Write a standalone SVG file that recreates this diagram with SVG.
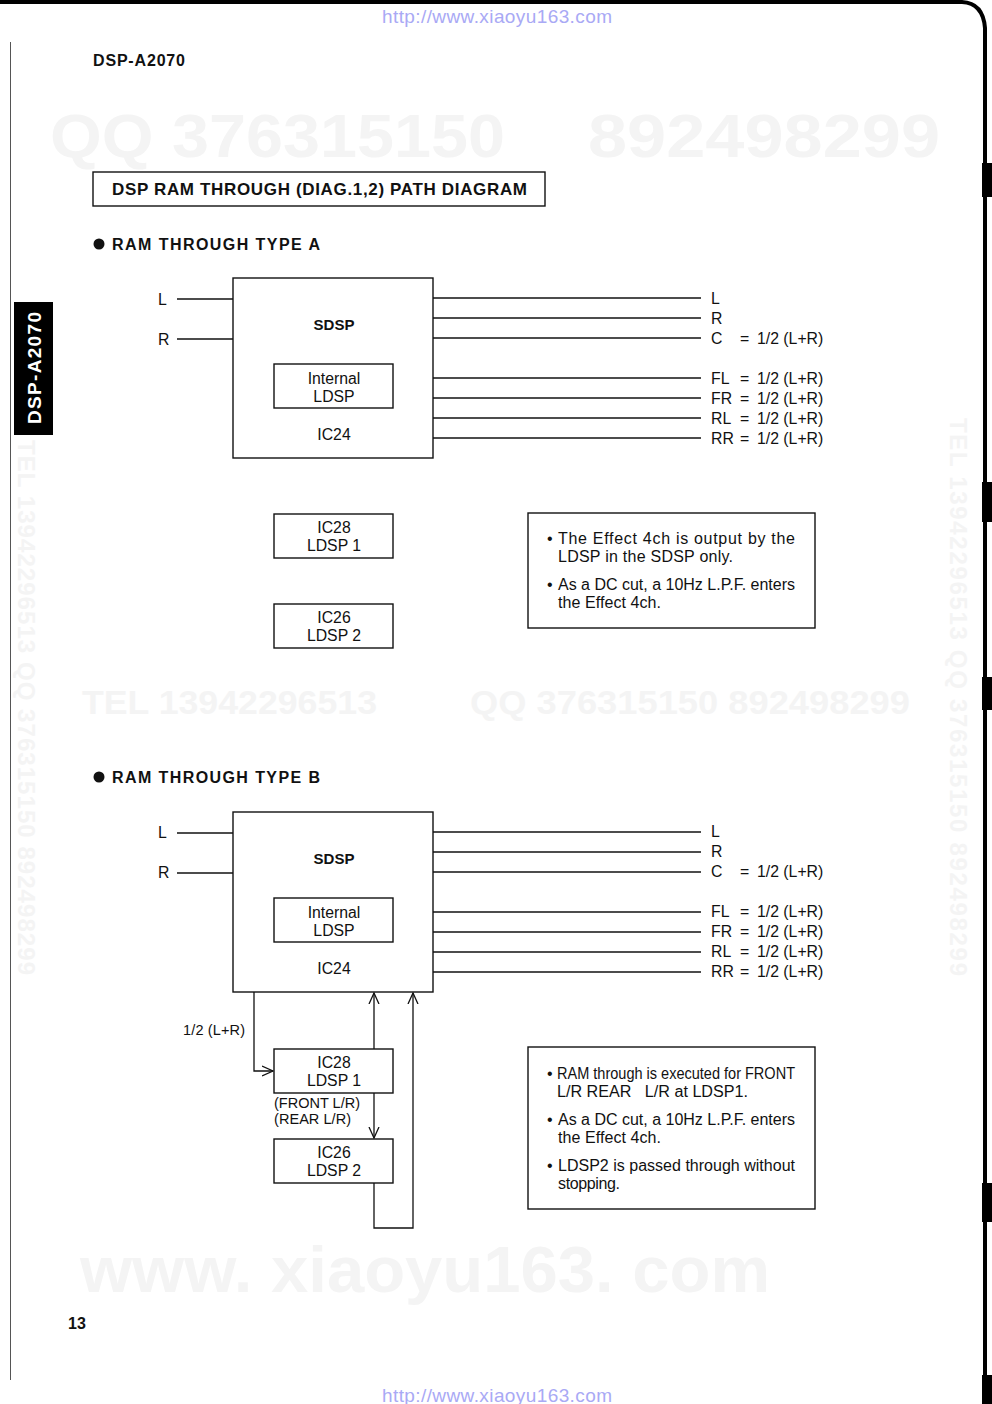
<svg xmlns="http://www.w3.org/2000/svg" width="992" height="1404" viewBox="0 0 992 1404">
<style>
text{font-family:"Liberation Sans",Arial,sans-serif;fill:#111}
.b{font-weight:bold}
.lbl{font-size:15.8px}
.box{fill:none;stroke:#111;stroke-width:1.4}
.ln{fill:none;stroke:#111;stroke-width:1.3}
.wm{font-family:"Liberation Sans",Arial,sans-serif;font-weight:bold;fill:#f4f4f4}
.url{fill:#a9a9f5;font-size:19px}
.mid{text-anchor:middle}
.note{font-size:16px}
</style>
<defs>
<marker id="arr" viewBox="0 0 12 12" refX="11" refY="6" markerWidth="12" markerHeight="12" markerUnits="userSpaceOnUse" orient="auto">
<path d="M0,1 L11,6 L0,11" fill="none" stroke="#111" stroke-width="1.3"/>
</marker>
</defs>
<rect width="992" height="1404" fill="#fff"/>

<!-- watermarks -->
<g id="watermarks">
<text class="wm" x="50" y="157" font-size="62" textLength="455" lengthAdjust="spacingAndGlyphs">QQ 376315150</text>
<text class="wm" x="588" y="157" font-size="62" textLength="352" lengthAdjust="spacingAndGlyphs">892498299</text>
<text class="wm" x="82" y="714" font-size="34" textLength="295" lengthAdjust="spacingAndGlyphs">TEL  13942296513</text>
<text class="wm" x="470" y="714" font-size="34" textLength="440" lengthAdjust="spacingAndGlyphs">QQ  376315150  892498299</text>
<text class="wm" x="80" y="1292" font-size="64" textLength="690" lengthAdjust="spacingAndGlyphs">www. xiaoyu163. com</text>
<text class="wm" font-size="24" transform="translate(950,418) rotate(90)" textLength="558">TEL  13942296513  QQ  376315150  892498299</text>
<text class="wm" font-size="24" transform="translate(18,440) rotate(90)" textLength="535">TEL  13942296513  QQ  376315150  892498299</text>
</g>

<!-- page frame -->
<g id="frame">
<path d="M0,2 H962 Q983,3 985,28 V1404" fill="none" stroke="#000" stroke-width="4"/>
<line x1="10.5" y1="42" x2="10.5" y2="1380" stroke="#555" stroke-width="1"/>
<rect x="982" y="163" width="10" height="34" fill="#000"/>
<rect x="982" y="482" width="10" height="40" fill="#000"/>
<rect x="982" y="677" width="10" height="33" fill="#000"/>
<rect x="982" y="1183" width="10" height="39" fill="#000"/>
<rect x="982" y="1375" width="10" height="29" fill="#000"/>
</g>

<text class="url" x="382" y="23" textLength="230">http://www.xiaoyu163.com</text>
<text class="url" x="382" y="1402" textLength="230">http://www.xiaoyu163.com</text>

<text class="b" x="93" y="66" font-size="16" textLength="92">DSP-A2070</text>
<text class="b" x="68" y="1329" font-size="16" textLength="18">13</text>

<g id="side-tab">
<rect x="14" y="302" width="39" height="133" fill="#000"/>
<text class="b mid" transform="translate(41,368) rotate(-90)" font-size="19" textLength="112" style="fill:#fff">DSP-A2070</text>
</g>

<g id="title">
<rect class="box" x="93" y="172" width="452" height="34"/>
<text class="b" x="112" y="195" font-size="17" textLength="415">DSP RAM THROUGH (DIAG.1,2) PATH DIAGRAM</text>
</g>

<!-- ============ TYPE A ============ -->
<g id="headA">
<circle cx="99" cy="244" r="5.5" fill="#111"/>
<text class="b" x="112" y="250" font-size="16" textLength="208">RAM THROUGH TYPE A</text>
</g>

<g id="connectorsA">
<line class="ln" x1="177" y1="299" x2="233" y2="299"/>
<line class="ln" x1="177" y1="339" x2="233" y2="339"/>
<line class="ln" x1="433" y1="298" x2="701" y2="298"/>
<line class="ln" x1="433" y1="318" x2="701" y2="318"/>
<line class="ln" x1="433" y1="338" x2="701" y2="338"/>
<line class="ln" x1="433" y1="378" x2="701" y2="378"/>
<line class="ln" x1="433" y1="398" x2="701" y2="398"/>
<line class="ln" x1="433" y1="418" x2="701" y2="418"/>
<line class="ln" x1="433" y1="438" x2="701" y2="438"/>
</g>

<g id="labelsA">
<text class="lbl" x="158" y="305">L</text>
<text class="lbl" x="158" y="345">R</text>
<text class="lbl" x="711" y="304">L</text>
<text class="lbl" x="711" y="324">R</text>
<text class="lbl" x="711" y="344">C</text><text class="lbl" x="740" y="344">=</text><text class="lbl" x="757" y="344">1/2 (L+R)</text>
<text class="lbl" x="711" y="384">FL</text><text class="lbl" x="740" y="384">=</text><text class="lbl" x="757" y="384">1/2 (L+R)</text>
<text class="lbl" x="711" y="404">FR</text><text class="lbl" x="740" y="404">=</text><text class="lbl" x="757" y="404">1/2 (L+R)</text>
<text class="lbl" x="711" y="424">RL</text><text class="lbl" x="740" y="424">=</text><text class="lbl" x="757" y="424">1/2 (L+R)</text>
<text class="lbl" x="711" y="444">RR</text><text class="lbl" x="740" y="444">=</text><text class="lbl" x="757" y="444">1/2 (L+R)</text>
</g>

<g id="sdspA">
<rect class="box" x="233" y="278" width="200" height="180"/>
<text class="b mid" x="334" y="330" font-size="15">SDSP</text>
<text class="lbl mid" x="334" y="440">IC24</text>
</g>
<g id="ldspA">
<rect class="box" x="274" y="364" width="119" height="44"/>
<text class="lbl mid" x="334" y="384">Internal</text>
<text class="lbl mid" x="334" y="402">LDSP</text>
</g>
<g id="ic28A">
<rect class="box" x="274" y="514" width="119" height="44"/>
<text class="lbl mid" x="334" y="533">IC28</text>
<text class="lbl mid" x="334" y="551">LDSP 1</text>
</g>
<g id="ic26A">
<rect class="box" x="274" y="604" width="119" height="44"/>
<text class="lbl mid" x="334" y="623">IC26</text>
<text class="lbl mid" x="334" y="641">LDSP 2</text>
</g>
<g id="noteA">
<rect class="box" x="528" y="513" width="287" height="115"/>
<text class="note" x="547" y="544">•</text>
<text class="note" x="558" y="544" textLength="237">The Effect 4ch is output by the</text>
<text class="note" x="558" y="562" textLength="175">LDSP in the SDSP only.</text>
<text class="note" x="547" y="590">•</text>
<text class="note" x="558" y="590" textLength="237">As a DC cut, a 10Hz L.P.F. enters</text>
<text class="note" x="558" y="608" textLength="103">the Effect 4ch.</text>
</g>

<!-- ============ TYPE B ============ -->
<g id="headB">
<circle cx="99" cy="777" r="5.5" fill="#111"/>
<text class="b" x="112" y="783" font-size="16" textLength="208">RAM THROUGH TYPE B</text>
</g>

<g id="connectorsB">
<line class="ln" x1="177" y1="833" x2="233" y2="833"/>
<line class="ln" x1="177" y1="873" x2="233" y2="873"/>
<line class="ln" x1="433" y1="832" x2="701" y2="832"/>
<line class="ln" x1="433" y1="852" x2="701" y2="852"/>
<line class="ln" x1="433" y1="872" x2="701" y2="872"/>
<line class="ln" x1="433" y1="912" x2="701" y2="912"/>
<line class="ln" x1="433" y1="932" x2="701" y2="932"/>
<line class="ln" x1="433" y1="952" x2="701" y2="952"/>
<line class="ln" x1="433" y1="972" x2="701" y2="972"/>
<path class="ln" d="M254,992 V1071 H273" marker-end="url(#arr)"/>
<path class="ln" d="M374,1049 V993" marker-end="url(#arr)"/>
<path class="ln" d="M374,1093 V1138" marker-end="url(#arr)"/>
<path class="ln" d="M374,1183 V1228 H413 V993" marker-end="url(#arr)"/>
</g>

<g id="labelsB">
<text class="lbl" x="158" y="838">L</text>
<text class="lbl" x="158" y="878">R</text>
<text class="lbl" x="711" y="837">L</text>
<text class="lbl" x="711" y="857">R</text>
<text class="lbl" x="711" y="877">C</text><text class="lbl" x="740" y="877">=</text><text class="lbl" x="757" y="877">1/2 (L+R)</text>
<text class="lbl" x="711" y="917">FL</text><text class="lbl" x="740" y="917">=</text><text class="lbl" x="757" y="917">1/2 (L+R)</text>
<text class="lbl" x="711" y="937">FR</text><text class="lbl" x="740" y="937">=</text><text class="lbl" x="757" y="937">1/2 (L+R)</text>
<text class="lbl" x="711" y="957">RL</text><text class="lbl" x="740" y="957">=</text><text class="lbl" x="757" y="957">1/2 (L+R)</text>
<text class="lbl" x="711" y="977">RR</text><text class="lbl" x="740" y="977">=</text><text class="lbl" x="757" y="977">1/2 (L+R)</text>
<text x="183" y="1035" font-size="14.5" textLength="62">1/2 (L+R)</text>
<text x="274" y="1108" font-size="14.5" textLength="86">(FRONT L/R)</text>
<text x="274" y="1124" font-size="14.5" textLength="77">(REAR L/R)</text>
</g>

<g id="sdspB">
<rect class="box" x="233" y="812" width="200" height="180"/>
<text class="b mid" x="334" y="864" font-size="15">SDSP</text>
<text class="lbl mid" x="334" y="974">IC24</text>
</g>
<g id="ldspB">
<rect class="box" x="274" y="898" width="119" height="44"/>
<text class="lbl mid" x="334" y="918">Internal</text>
<text class="lbl mid" x="334" y="936">LDSP</text>
</g>
<g id="ic28B">
<rect class="box" x="274" y="1049" width="119" height="44"/>
<text class="lbl mid" x="334" y="1068">IC28</text>
<text class="lbl mid" x="334" y="1086">LDSP 1</text>
</g>
<g id="ic26B">
<rect class="box" x="274" y="1139" width="119" height="44"/>
<text class="lbl mid" x="334" y="1158">IC26</text>
<text class="lbl mid" x="334" y="1176">LDSP 2</text>
</g>
<g id="noteB">
<rect class="box" x="528" y="1047" width="287" height="162"/>
<text class="note" x="547" y="1079">•</text>
<text class="note" x="557" y="1079" textLength="238" lengthAdjust="spacingAndGlyphs">RAM through is executed for FRONT</text>
<text class="note" x="557" y="1097" textLength="191" lengthAdjust="spacingAndGlyphs" style="white-space:pre" xml:space="preserve">L/R REAR   L/R at LDSP1.</text>
<text class="note" x="547" y="1125">•</text>
<text class="note" x="558" y="1125" textLength="237">As a DC cut, a 10Hz L.P.F. enters</text>
<text class="note" x="558" y="1143" textLength="103">the Effect 4ch.</text>
<text class="note" x="547" y="1171">•</text>
<text class="note" x="558" y="1171" textLength="237">LDSP2 is passed through without</text>
<text class="note" x="558" y="1189" textLength="62">stopping.</text>
</g>
</svg>
